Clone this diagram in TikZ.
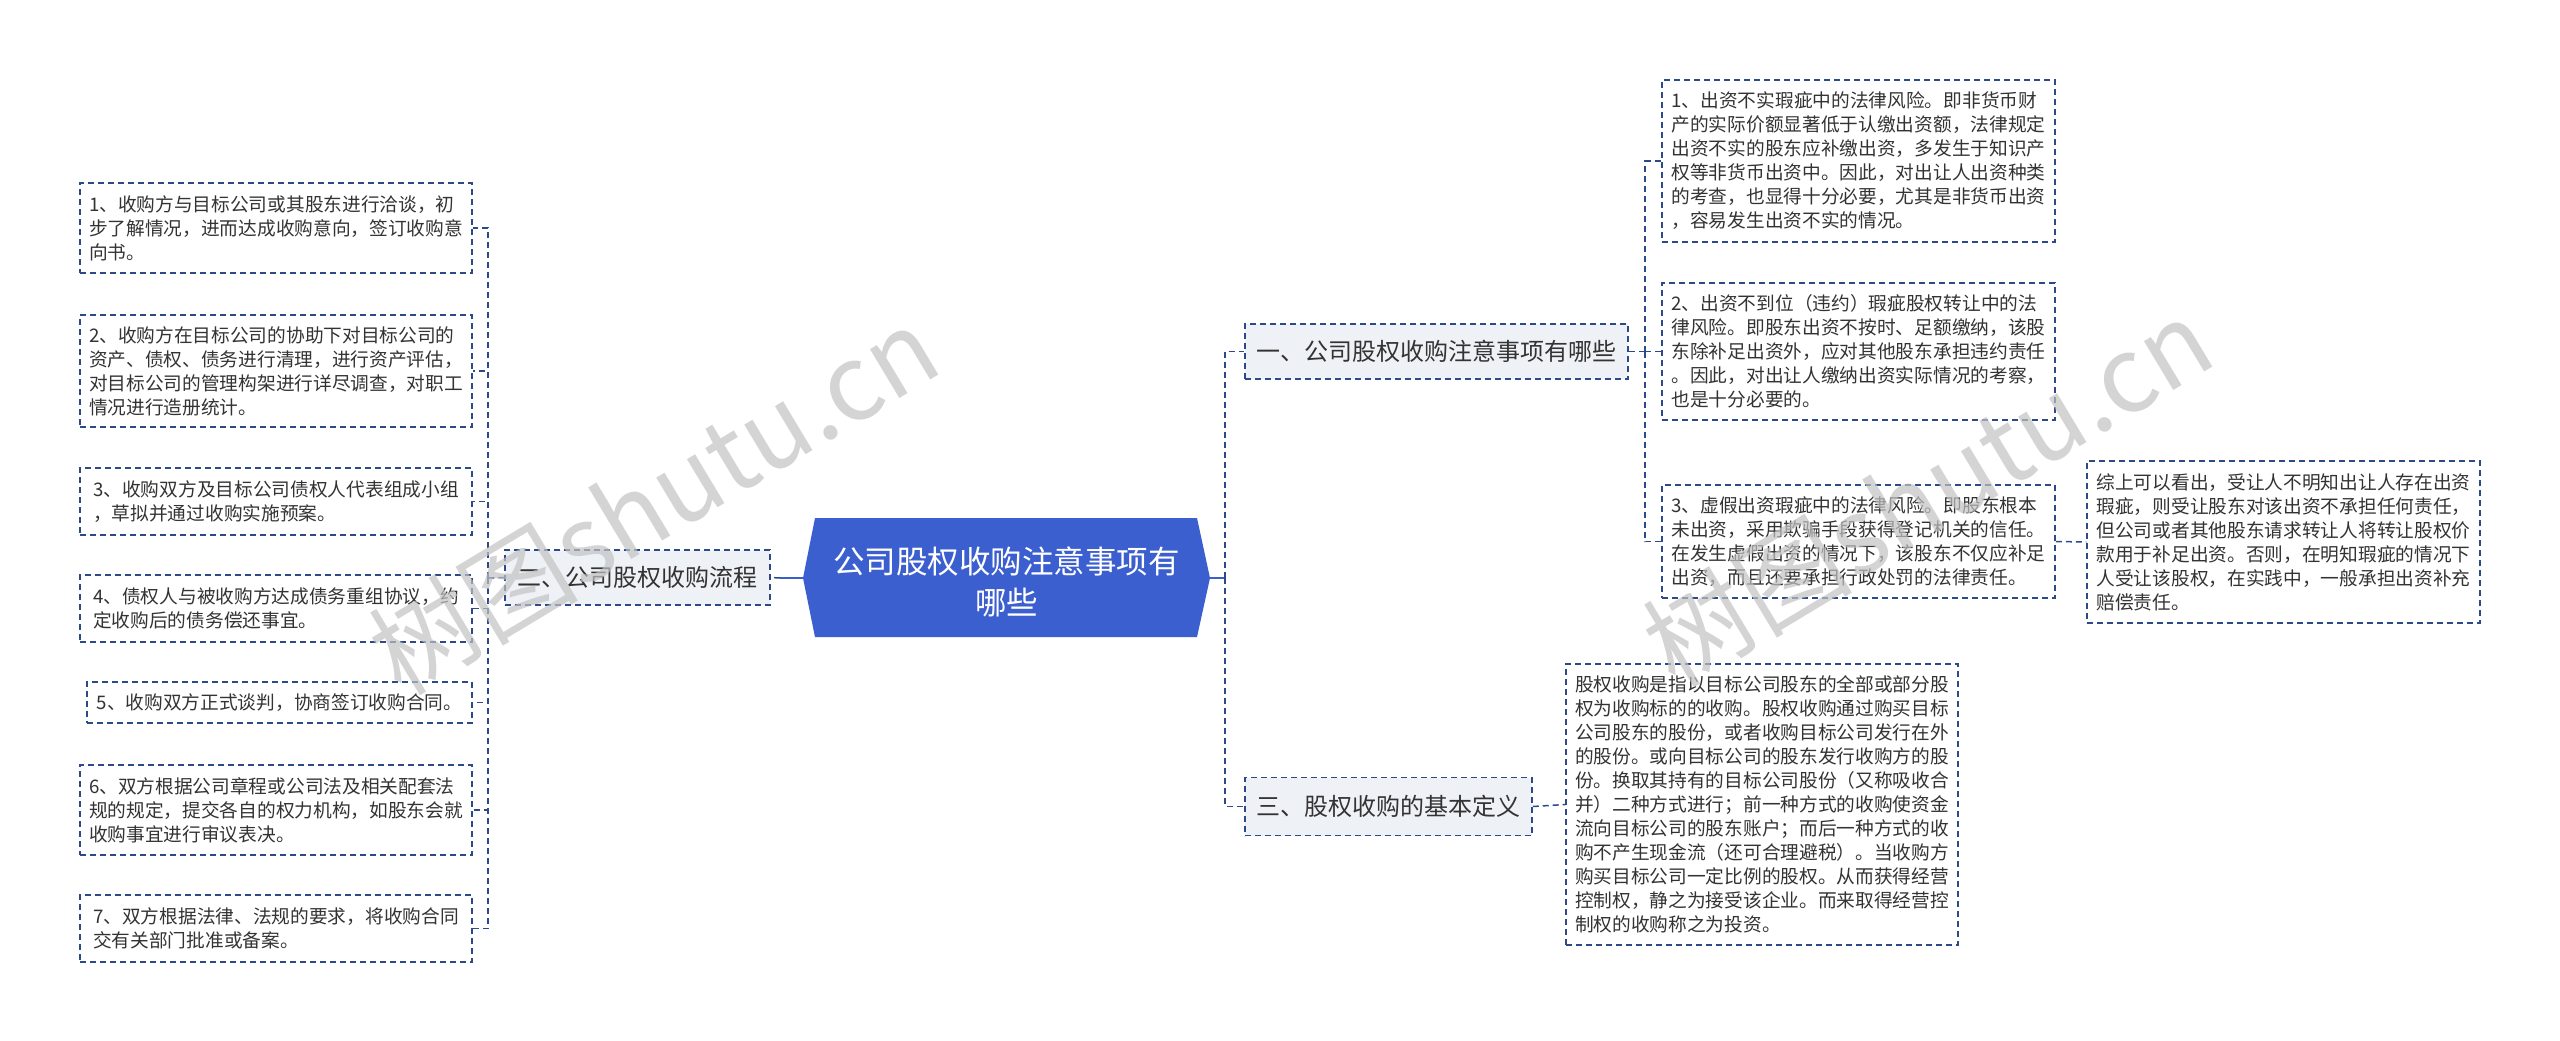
\documentclass[tikz,border=0pt]{standalone}
\usepackage{fontspec}
\setmainfont{Noto Sans CJK SC}
\definecolor{lineblue}{HTML}{2C4A87}
\definecolor{rootblue}{HTML}{3B5FCE}
\definecolor{subfill}{HTML}{EEF1F6}
\definecolor{textgray}{HTML}{333333}
\begin{document}
\begin{tikzpicture}[x=1pt,y=-1pt,
  conn/.style={draw=lineblue, line width=1.5pt, dash pattern=on 6pt off 4pt},
  solidconn/.style={draw=rootblue, line width=2.2pt},
  leaf/.style={draw=lineblue, line width=1.5pt, dash pattern=on 6pt off 4pt, fill=white, inner sep=0pt, align=left, text=textgray, font=\fontsize{18.7pt}{24pt}\selectfont},
  subnode/.style={leaf, fill=subfill, font=\fontsize{24pt}{30pt}\selectfont},
  wmark/.style={text=black!24, opacity=0.7, font=\fontsize{105pt}{110pt}\selectfont, rotate=31}
]
\useasboundingbox (0,0) rectangle (2560,1041);
\fill[white] (0,0) rectangle (2560,1041);

% root hexagon
\fill[rootblue] (803,578) -- (815,518) -- (1197,518) -- (1210,578) -- (1197,637) -- (815,637) -- cycle;
\node[text=white, align=center, font=\fontsize{31.5pt}{41pt}\selectfont] (root) at (1006.5,582) {公司股权收购注意事项有\\哪些};
\coordinate (rootW) at (803,578);
\coordinate (rootE) at (1210,578);

% level 1
\node[subnode, minimum width=265pt, minimum height=55pt] (n2) at (637.5,577.5) {二、公司股权收购流程};
\node[subnode, minimum width=383pt, minimum height=55pt] (n1) at (1436.5,351.5) {一、公司股权收购注意事项有哪些};
\node[subnode, minimum width=287pt, minimum height=58pt] (n3) at (1388.5,806.5) {三、股权收购的基本定义};

% left leaves
\node[leaf, minimum width=392pt, minimum height=90pt] (L1) at (276,228) {1、收购方与目标公司或其股东进行洽谈，初\\步了解情况，进而达成收购意向，签订收购意\\向书。};
\node[leaf, minimum width=392pt, minimum height=112pt] (L2) at (276,371) {2、收购方在目标公司的协助下对目标公司的\\资产、债权、债务进行清理，进行资产评估，\\对目标公司的管理构架进行详尽调查，对职工\\情况进行造册统计。};
\node[leaf, minimum width=392pt, minimum height=67pt] (L3) at (276,501.5) {3、收购双方及目标公司债权人代表组成小组\\，草拟并通过收购实施预案。};
\node[leaf, minimum width=392pt, minimum height=67pt] (L4) at (276,608.5) {4、债权人与被收购方达成债务重组协议，约\\定收购后的债务偿还事宜。};
\node[leaf, minimum width=385pt, minimum height=41pt] (L5) at (279.5,702.5) {5、收购双方正式谈判，协商签订收购合同。};
\node[leaf, minimum width=392pt, minimum height=90pt] (L6) at (276,810) {6、双方根据公司章程或公司法及相关配套法\\规的规定，提交各自的权力机构，如股东会就\\收购事宜进行审议表决。};
\node[leaf, minimum width=392pt, minimum height=67pt] (L7) at (276,928.5) {7、双方根据法律、法规的要求，将收购合同\\交有关部门批准或备案。};

% right leaves
\node[leaf, minimum width=393pt, minimum height=162pt] (R1) at (1858.5,161) {1、出资不实瑕疵中的法律风险。即非货币财\\产的实际价额显著低于认缴出资额，法律规定\\出资不实的股东应补缴出资，多发生于知识产\\权等非货币出资中。因此，对出让人出资种类\\的考查，也显得十分必要，尤其是非货币出资\\，容易发生出资不实的情况。};
\node[leaf, minimum width=393pt, minimum height=137pt] (R2) at (1858.5,351.5) {2、出资不到位（违约）瑕疵股权转让中的法\\律风险。即股东出资不按时、足额缴纳，该股\\东除补足出资外，应对其他股东承担违约责任\\。因此，对出让人缴纳出资实际情况的考察，\\也是十分必要的。};
\node[leaf, minimum width=393pt, minimum height=113pt] (R3) at (1858.5,541.5) {3、虚假出资瑕疵中的法律风险。即股东根本\\未出资，采用欺骗手段获得登记机关的信任。\\在发生虚假出资的情况下，该股东不仅应补足\\出资，而且还要承担行政处罚的法律责任。};
\node[leaf, minimum width=393pt, minimum height=162pt] (R4) at (2283.5,542) {综上可以看出，受让人不明知出让人存在出资\\瑕疵，则受让股东对该出资不承担任何责任，\\但公司或者其他股东请求转让人将转让股权价\\款用于补足出资。否则，在明知瑕疵的情况下\\人受让该股权，在实践中，一般承担出资补充\\赔偿责任。};
\node[leaf, minimum width=392pt, minimum height=281pt] (D) at (1762,804.5) {股权收购是指以目标公司股东的全部或部分股\\权为收购标的的收购。股权收购通过购买目标\\公司股东的股份，或者收购目标公司发行在外\\的股份。或向目标公司的股东发行收购方的股\\份。换取其持有的目标公司股份（又称吸收合\\并）二种方式进行；前一种方式的收购使资金\\流向目标公司的股东账户；而后一种方式的收\\购不产生现金流（还可合理避税）。当收购方\\购买目标公司一定比例的股权。从而获得经营\\控制权，静之为接受该企业。而来取得经营控\\制权的收购称之为投资。};

% connectors
\coordinate (lstub) at (780,578);
\coordinate (rstub) at (1225,578);
\draw[solidconn] (rootW) -- (lstub);
\draw[conn] (lstub) -- (n2.east);
\draw[solidconn] (rootE) -- (rstub);
\draw[conn] (rstub) |- (n1.west);
\draw[conn] (rstub) |- (n3.west);

\coordinate (ltrunk) at (488,578);
\draw[conn] (n2.west) -- (ltrunk);
\foreach \c in {L1,L2,L3,L4,L5,L6,L7}
  \draw[conn] (ltrunk) |- (\c.east);

\coordinate (rtrunk) at (1645,351.5);
\draw[conn] (n1.east) -- (rtrunk);
\foreach \c in {R1,R2,R3}
  \draw[conn] (rtrunk) |- (\c.west);
\draw[conn] (R3.east) -- (R4.west);
\draw[conn] (n3.east) -- (D.west);

% watermarks
\node[wmark] (wm1) at (653,500) {树图shutu.cn};
\node[wmark] (wm2) at (1927,492) {树图shutu.cn};
\end{tikzpicture}
\end{document}
